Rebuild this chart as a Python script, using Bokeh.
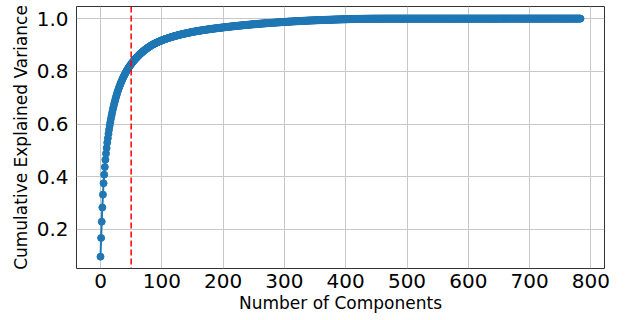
from bokeh.plotting import figure
from bokeh.models import Span, Range1d, FixedTicker, PrintfTickFormatter
from bokeh.embed import file_html
from bokeh.resources import INLINE

# Cumulative explained variance for each principal component
cum_var = [
    0.0970, 0.1680, 0.2297, 0.2836, 0.3323, 0.3754, 0.4081, 0.4369, 0.4645, 0.4879,
    0.5090, 0.5292, 0.5463, 0.5632, 0.5790, 0.5939, 0.6071, 0.6199, 0.6318, 0.6433,
    0.6540, 0.6641, 0.6737, 0.6828, 0.6916, 0.7000, 0.7081, 0.7160, 0.7234, 0.7303,
    0.7369, 0.7434, 0.7494, 0.7553, 0.7610, 0.7664, 0.7715, 0.7764, 0.7812, 0.7859,
    0.7905, 0.7948, 0.7990, 0.8030, 0.8069, 0.8107, 0.8143, 0.8178, 0.8212, 0.8245,
    0.8277, 0.8308, 0.8338, 0.8367, 0.8396, 0.8424, 0.8451, 0.8477, 0.8503, 0.8528,
    0.8552, 0.8576, 0.8599, 0.8622, 0.8644, 0.8666, 0.8687, 0.8708, 0.8728, 0.8748,
    0.8767, 0.8786, 0.8805, 0.8823, 0.8841, 0.8858, 0.8875, 0.8892, 0.8908, 0.8924,
    0.8940, 0.8955, 0.8970, 0.8985, 0.8999, 0.9012, 0.9025, 0.9037, 0.9049, 0.9061,
    0.9072, 0.9083, 0.9094, 0.9105, 0.9115, 0.9125, 0.9135, 0.9145, 0.9155, 0.9165,
    0.9174, 0.9183, 0.9192, 0.9201, 0.9210, 0.9218, 0.9226, 0.9234, 0.9242, 0.9250,
    0.9258, 0.9266, 0.9274, 0.9281, 0.9288, 0.9295, 0.9302, 0.9309, 0.9316, 0.9323,
    0.9330, 0.9337, 0.9344, 0.9350, 0.9356, 0.9362, 0.9368, 0.9374, 0.9380, 0.9386,
    0.9392, 0.9398, 0.9404, 0.9410, 0.9415, 0.9420, 0.9425, 0.9430, 0.9435, 0.9440,
    0.9445, 0.9450, 0.9455, 0.9460, 0.9465, 0.9470, 0.9475, 0.9480, 0.9485, 0.9490,
    0.9495, 0.9499, 0.9503, 0.9507, 0.9511, 0.9515, 0.9519, 0.9523, 0.9527, 0.9531,
    0.9535, 0.9539, 0.9543, 0.9547, 0.9551, 0.9554, 0.9558, 0.9562, 0.9565, 0.9569,
    0.9572, 0.9576, 0.9579, 0.9583, 0.9586, 0.9590, 0.9593, 0.9596, 0.9600, 0.9603,
    0.9606, 0.9609, 0.9613, 0.9616, 0.9619, 0.9622, 0.9625, 0.9628, 0.9631, 0.9634,
    0.9637, 0.9640, 0.9643, 0.9646, 0.9649, 0.9652, 0.9655, 0.9658, 0.9660, 0.9663,
    0.9666, 0.9669, 0.9671, 0.9674, 0.9677, 0.9680, 0.9682, 0.9685, 0.9688, 0.9690,
    0.9693, 0.9695, 0.9698, 0.9701, 0.9703, 0.9706, 0.9708, 0.9711, 0.9713, 0.9716,
    0.9718, 0.9721, 0.9723, 0.9726, 0.9728, 0.9731, 0.9733, 0.9735, 0.9738, 0.9740,
    0.9742, 0.9745, 0.9747, 0.9749, 0.9751, 0.9754, 0.9756, 0.9758, 0.9760, 0.9763,
    0.9765, 0.9767, 0.9769, 0.9771, 0.9773, 0.9776, 0.9778, 0.9780, 0.9782, 0.9784,
    0.9786, 0.9788, 0.9790, 0.9792, 0.9794, 0.9796, 0.9798, 0.9800, 0.9802, 0.9804,
    0.9806, 0.9808, 0.9810, 0.9812, 0.9813, 0.9815, 0.9817, 0.9819, 0.9821, 0.9823,
    0.9824, 0.9826, 0.9828, 0.9830, 0.9831, 0.9833, 0.9835, 0.9837, 0.9838, 0.9840,
    0.9842, 0.9843, 0.9845, 0.9847, 0.9848, 0.9850, 0.9852, 0.9853, 0.9855, 0.9857,
    0.9858, 0.9860, 0.9861, 0.9863, 0.9865, 0.9866, 0.9868, 0.9869, 0.9871, 0.9872,
    0.9874, 0.9875, 0.9877, 0.9878, 0.9880, 0.9881, 0.9883, 0.9884, 0.9886, 0.9887,
    0.9888, 0.9890, 0.9891, 0.9893, 0.9894, 0.9895, 0.9897, 0.9898, 0.9899, 0.9901,
    0.9902, 0.9903, 0.9905, 0.9906, 0.9907, 0.9908, 0.9910, 0.9911, 0.9912, 0.9913,
    0.9914, 0.9916, 0.9917, 0.9918, 0.9919, 0.9920, 0.9921, 0.9922, 0.9924, 0.9925,
    0.9926, 0.9927, 0.9928, 0.9929, 0.9930, 0.9931, 0.9932, 0.9933, 0.9934, 0.9935,
    0.9936, 0.9937, 0.9938, 0.9939, 0.9940, 0.9941, 0.9942, 0.9943, 0.9944, 0.9945,
    0.9946, 0.9947, 0.9948, 0.9948, 0.9949, 0.9950, 0.9951, 0.9952, 0.9953, 0.9954,
    0.9954, 0.9955, 0.9956, 0.9957, 0.9958, 0.9959, 0.9959, 0.9960, 0.9961, 0.9962,
    0.9963, 0.9963, 0.9964, 0.9965, 0.9966, 0.9966, 0.9967, 0.9968, 0.9969, 0.9969,
    0.9970, 0.9971, 0.9971, 0.9972, 0.9973, 0.9973, 0.9974, 0.9975, 0.9975, 0.9976,
    0.9977, 0.9977, 0.9978, 0.9979, 0.9979, 0.9980, 0.9980, 0.9981, 0.9982, 0.9982,
    0.9983, 0.9983, 0.9984, 0.9984, 0.9985, 0.9986, 0.9986, 0.9987, 0.9987, 0.9988,
    0.9988, 0.9989, 0.9989, 0.9990, 0.9990, 0.9991, 0.9991, 0.9992, 0.9992, 0.9992,
    0.9993, 0.9993, 0.9994, 0.9994, 0.9994, 0.9995, 0.9995, 0.9995, 0.9996, 0.9996,
    0.9996, 0.9997, 0.9997, 0.9997, 0.9997, 0.9998, 0.9998, 0.9998, 0.9998, 0.9998,
    0.99982, 0.99983, 0.99984, 0.99985, 0.99986, 0.99987, 0.99988, 0.99988, 0.99989, 0.99990,
    0.99990, 0.99991, 0.99991, 0.99992, 0.99992, 0.99993, 0.99993, 0.99993, 0.99994, 0.99994,
    0.99994, 0.99995, 0.99995, 0.99995, 0.99995, 0.99996, 0.99996, 0.99996, 0.99996, 0.99996,
    0.99997, 0.99997, 0.99997, 0.99997, 0.99997, 0.99997, 0.99997, 0.99997, 0.99997, 0.99997,
    0.99997, 0.99997, 0.99997, 0.99997, 0.99997, 0.99998, 0.99998, 0.99998, 0.99998, 0.99998,
    0.99998, 0.99998, 0.99998, 0.99998, 0.99998, 0.99998, 0.99998, 0.99998, 0.99998, 0.99998,
    0.99998, 0.99998, 0.99998, 0.99998, 0.99998, 0.99998, 0.99998, 0.99998, 0.99998, 0.99998,
    0.99998, 0.99998, 0.99998, 0.99998, 0.99998, 0.99999, 0.99999, 0.99999, 0.99999, 0.99999,
    0.99999, 0.99999, 0.99999, 0.99999, 0.99999, 0.99999, 0.99999, 0.99999, 0.99999, 0.99999,
    0.99999, 0.99999, 0.99999, 0.99999, 0.99999, 0.99999, 0.99999, 0.99999, 0.99999, 0.99999,
    0.99999, 0.99999, 0.99999, 0.99999, 0.99999, 0.99999, 0.99999, 0.99999, 0.99999, 0.99999,
    0.99999, 0.99999, 0.99999, 0.99999, 0.99999, 0.99999, 0.99999, 0.99999, 0.99999, 0.99999,
    0.99999, 0.99999, 0.99999, 0.99999, 0.99999, 0.99999, 0.99999, 0.99999, 0.99999, 0.99999,
    0.99999, 0.99999, 0.99999, 0.99999, 0.99999, 0.99999, 0.99999, 0.99999, 0.99999, 0.99999,
    0.99999, 0.99999, 0.99999, 0.99999, 0.99999, 0.99999, 0.99999, 0.99999, 0.99999, 0.99999,
    0.99999, 0.99999, 0.99999, 0.99999, 0.99999, 0.99999, 0.99999, 0.99999, 0.99999, 0.99999,
    0.99999, 0.99999, 0.99999, 0.99999, 0.99999, 0.99999, 0.99999, 0.99999, 0.99999, 0.99999,
    0.99999, 0.99999, 0.99999, 0.99999, 0.99999, 0.99999, 0.99999, 0.99999, 0.99999, 0.99999,
    0.99999, 0.99999, 0.99999, 0.99999, 0.99999, 0.99999, 0.99999, 0.99999, 0.99999, 0.99999,
    0.99999, 0.99999, 0.99999, 0.99999, 0.99999, 0.99999, 0.99999, 0.99999, 0.99999, 0.99999,
    1.0, 1.0, 1.0, 1.0, 1.0, 1.0, 1.0, 1.0, 1.0, 1.0,
    1.0, 1.0, 1.0, 1.0, 1.0, 1.0, 1.0, 1.0, 1.0, 1.0,
    1.0, 1.0, 1.0, 1.0, 1.0, 1.0, 1.0, 1.0, 1.0, 1.0,
    1.0, 1.0, 1.0, 1.0, 1.0, 1.0, 1.0, 1.0, 1.0, 1.0,
    1.0, 1.0, 1.0, 1.0, 1.0, 1.0, 1.0, 1.0, 1.0, 1.0,
    1.0, 1.0, 1.0, 1.0, 1.0, 1.0, 1.0, 1.0, 1.0, 1.0,
    1.0, 1.0, 1.0, 1.0, 1.0, 1.0, 1.0, 1.0, 1.0, 1.0,
    1.0, 1.0, 1.0, 1.0, 1.0, 1.0, 1.0, 1.0, 1.0, 1.0,
    1.0, 1.0, 1.0, 1.0, 1.0, 1.0, 1.0, 1.0, 1.0, 1.0,
    1.0, 1.0, 1.0, 1.0, 1.0, 1.0, 1.0, 1.0, 1.0, 1.0,
    1.0, 1.0, 1.0, 1.0, 1.0, 1.0, 1.0, 1.0, 1.0, 1.0,
    1.0, 1.0, 1.0, 1.0, 1.0, 1.0, 1.0, 1.0, 1.0, 1.0,
    1.0, 1.0, 1.0, 1.0, 1.0, 1.0, 1.0, 1.0, 1.0, 1.0,
    1.0, 1.0, 1.0, 1.0,
]
components = list(range(len(cum_var)))
chosen_components = 50
x_ticks = [0, 100, 200, 300, 400, 500, 600, 700, 800]
y_ticks = [0.2, 0.4, 0.6, 0.8, 1.0]

FONT = "DejaVu Sans"
BLUE = "#1f77b4"

p = figure(width=614, height=316, output_backend="svg", toolbar_location=None,
           x_range=Range1d(-39.15, 822.15), y_range=Range1d(0.052, 1.046),
           min_border_left=76, min_border_right=10, min_border_top=6, min_border_bottom=48)

p.line(components, cum_var, line_color=BLUE, line_width=2)
p.scatter(components, cum_var, size=7, fill_color=BLUE, line_color=BLUE)

p.add_layout(Span(location=chosen_components, dimension="height", line_color="red",
                  line_dash="6 3", line_width=1.5))

p.outline_line_color = "#333333"
p.outline_line_width = 1
p.background_fill_color = "white"
p.border_fill_color = "white"

for ax in (p.xaxis, p.yaxis):
    ax.axis_line_color = None
    ax.major_tick_out = 0
    ax.major_tick_in = 0
    ax.minor_tick_out = 0
    ax.minor_tick_in = 0
    ax.major_label_text_font = FONT
    ax.major_label_text_font_size = "20px"
    ax.major_label_text_color = "black"
    ax.axis_label_text_font = FONT
    ax.axis_label_text_font_size = "17px"
    ax.axis_label_text_font_style = "normal"
    ax.axis_label_text_color = "black"

p.xaxis.ticker = FixedTicker(ticks=x_ticks)
p.yaxis.ticker = FixedTicker(ticks=y_ticks)
p.yaxis.formatter = PrintfTickFormatter(format="%.1f")
p.xaxis.axis_label = "Number of Components"
p.yaxis.axis_label = "Cumulative Explained Variance"
p.xaxis.major_label_standoff = 5
p.yaxis.major_label_standoff = 8
p.xaxis.axis_label_standoff = 2
p.yaxis.axis_label_standoff = 3

p.grid.grid_line_color = "#c8c8c8"
p.grid.grid_line_width = 1

open("out.html", "w").write(file_html(p, INLINE))
